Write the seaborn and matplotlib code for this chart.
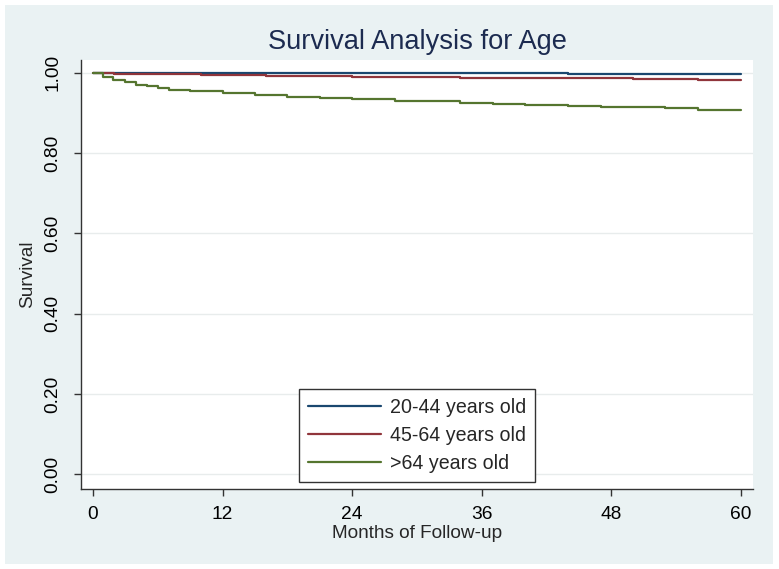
import matplotlib
matplotlib.use("Agg")
import matplotlib.pyplot as plt
from matplotlib.patches import Rectangle
import pandas as pd
import seaborn as sns

# Kaplan-Meier estimates (months, survival)
groups = ['20-44 years old', '45-64 years old', '>64 years old']

months_young = [0, 10, 44, 60]
surv_young = [1.0, 0.9993, 0.998, 0.998]

months_mid = [0, 2, 5, 10, 16, 24, 34, 42, 50, 56, 60]
surv_mid = [1.0, 0.998, 0.996, 0.994, 0.992, 0.990, 0.987, 0.986, 0.984, 0.982, 0.981]

months_old = [0, 0.9, 1.9, 3, 4, 5, 6, 7, 9, 12, 15, 18, 21, 24, 28, 31, 34, 37, 40,
              44, 47, 50, 53, 56, 60]
surv_old = [1.0, 0.990, 0.983, 0.976, 0.970, 0.966, 0.962, 0.958, 0.954, 0.950, 0.945,
            0.941, 0.938, 0.934, 0.931, 0.929, 0.926, 0.923, 0.921, 0.918, 0.916, 0.914,
            0.912, 0.908, 0.907]

colors = ['#1a476f', '#90353b', '#55752f']
bg = '#eaf2f3'

frames = []
for name, m, s in zip(groups, [months_young, months_mid, months_old],
                      [surv_young, surv_mid, surv_old]):
    frames.append(pd.DataFrame({'Months': m, 'Survival': s, 'Group': name}))
df = pd.concat(frames, ignore_index=True)

sns.set_style('white')
plt.rcParams['font.family'] = ['Liberation Sans', 'DejaVu Sans']

fig = plt.figure(figsize=(7.79, 5.69), dpi=100)
fig.patch.set_facecolor('white')
fig.patches.append(Rectangle((5 / 779, 5 / 569), 768 / 779, 559 / 569,
                             transform=fig.transFigure, facecolor=bg,
                             edgecolor='none', zorder=-10))

ax = fig.add_axes([81 / 779, 1 - 489 / 569, 672 / 779, 429 / 569])
ax.set_facecolor('white')

sns.lineplot(data=df, x='Months', y='Survival', hue='Group', palette=colors,
             estimator=None, drawstyle='steps-post', linewidth=1.6, ax=ax)

ax.set_xlim(-1.1, 61.1)
ax.set_ylim(-0.037, 1.032)
ax.set_xticks([0, 12, 24, 36, 48, 60])
ax.set_yticks([0, 0.2, 0.4, 0.6, 0.8, 1.0])
ax.set_yticklabels(['0.00', '0.20', '0.40', '0.60', '0.80', '1.00'],
                   rotation=90, va='center')
ax.tick_params(axis='both', direction='out', length=5, width=1, color='#333333',
               labelsize=13.8, labelcolor='black', bottom=True, left=True)
ax.tick_params(axis='x', pad=7)
ax.tick_params(axis='y', pad=9)
ax.grid(axis='y', color='#e8ecec', linewidth=1)
ax.set_axisbelow(True)

for side in ['top', 'right']:
    ax.spines[side].set_visible(False)
for side in ['left', 'bottom']:
    ax.spines[side].set_color('#333333')
    ax.spines[side].set_linewidth(1)

ax.set_xlabel('Months of Follow-up', fontsize=13.7, labelpad=2)
ax.set_ylabel('Survival', fontsize=13.7, labelpad=6)

leg = ax.legend(loc='lower center', bbox_to_anchor=(0.5, 0.016), fontsize=14.1,
                frameon=True, fancybox=False, edgecolor='#333333', framealpha=1,
                handlelength=3.7, handletextpad=0.46, borderpad=0.45,
                labelspacing=0.47, borderaxespad=0, title=None)
leg.get_frame().set_linewidth(1)
for line in leg.get_lines():
    line.set_linewidth(1.6)

fig.text(417 / 779, 1 - 42 / 569, 'Survival Analysis for Age', ha='center',
         va='center', fontsize=19.6, color='#1c2b50')

plt.savefig('out.png', dpi=100, facecolor=fig.get_facecolor())
